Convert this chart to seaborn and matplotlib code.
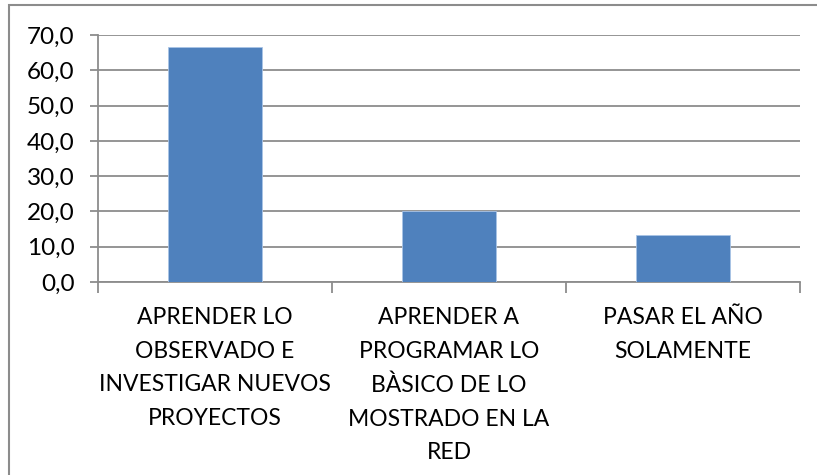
import matplotlib
matplotlib.use("Agg")
import matplotlib.pyplot as plt
import seaborn as sns
import pandas as pd
from matplotlib.patches import Rectangle
from matplotlib.ticker import FuncFormatter, FixedLocator

categories = [
    "APRENDER LO\nOBSERVADO E\nINVESTIGAR NUEVOS\nPROYECTOS",
    "APRENDER A\nPROGRAMAR LO\nBÀSICO DE LO\nMOSTRADO EN LA\nRED",
    "PASAR EL AÑO\nSOLAMENTE",
]
values = [66.7, 20.0, 13.3]
y_ticks = [0, 10, 20, 30, 40, 50, 60, 70]

sns.set_theme(style="white")
plt.rcParams["font.family"] = ["Lato", "Open Sans", "DejaVu Sans"]

df = pd.DataFrame({"cat": categories, "val": values})

fig = plt.figure(figsize=(8.17, 4.75), dpi=100)
ax = fig.add_axes([98 / 817, 1 - 282 / 475, 702 / 817, 247 / 475])

sns.barplot(data=df, x="cat", y="val", ax=ax, color="#4F81BD",
            saturation=1, width=0.4, edgecolor="#A9C4E6", linewidth=0.6,
            zorder=3)

grid_c = "#8C8C8C"
ax.set_ylim(0, 70)
ax.set_xlim(-0.5, 2.5)
ax.yaxis.set_major_locator(FixedLocator(y_ticks))
ax.yaxis.set_major_formatter(FuncFormatter(lambda v, p: f"{v:.1f}".replace(".", ",")))
ax.grid(axis="y", color=grid_c, linewidth=1.3, zorder=0)
ax.set_axisbelow(True)

for s in ["top", "right"]:
    ax.spines[s].set_visible(False)
for s in ["left", "bottom"]:
    ax.spines[s].set_color(grid_c)
    ax.spines[s].set_linewidth(1.3)

ax.set_xlabel("")
ax.set_ylabel("")

# category labels centred under each bar, boundary ticks between categories
ax.set_xticks([-0.5, 0.5, 1.5, 2.5], minor=False)
ax.set_xticklabels([])
ax.tick_params(axis="x", which="major", direction="out", length=8,
               width=1.3, color=grid_c, bottom=True)
ax.set_xticks([0, 1, 2], minor=True)
ax.set_xticklabels(categories, minor=True, fontsize=16.5, linespacing=1.74,
                   color="#000000")
ax.tick_params(axis="x", which="minor", length=0, pad=18)
ax.tick_params(axis="y", direction="out", length=6, width=1.3, color=grid_c,
               left=True, labelsize=17.5, pad=11, labelcolor="#000000")

fig.patches.append(Rectangle((9 / 817, -0.1), 1.2, 1 - 5 / 475 + 0.1,
                             transform=fig.transFigure, fill=False,
                             edgecolor="#8C8C8C", linewidth=1.5))

fig.savefig("out.png", dpi=100, facecolor="white")
